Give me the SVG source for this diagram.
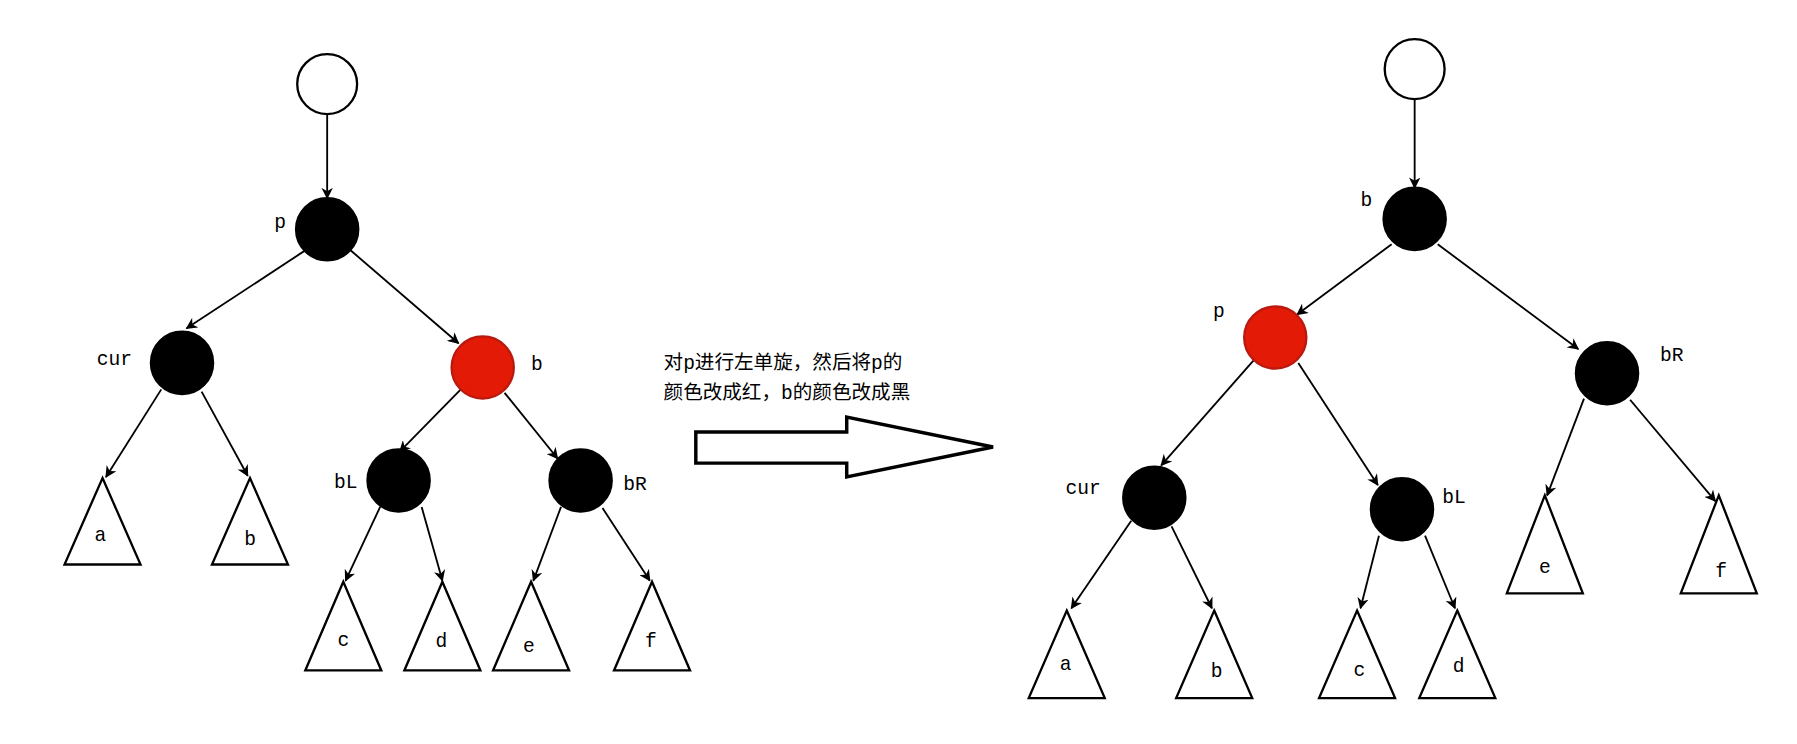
<svg xmlns="http://www.w3.org/2000/svg" width="1797" height="744" viewBox="0 0 1797 744">
<defs>
<style>
.n{stroke:#000;stroke-width:2}
.w{fill:#fff}.k{fill:#000}.r{fill:#e31a05;stroke:#b81a10}
.t{fill:#fff;stroke:#000;stroke-width:2}
.l{font-family:"Liberation Mono","Noto Sans CJK SC",monospace;font-size:17px;fill:#000}
.e{stroke:#000;stroke-width:1.6;fill:none;marker-end:url(#a)}
</style>
<marker id="a" viewBox="0 0 10 10" refX="9" refY="5" markerWidth="10" markerHeight="10" markerUnits="userSpaceOnUse" orient="auto"><path d="M0,0 L10,5 L0,10 L3,5 z" fill="#000"/></marker>
</defs>
<rect width="1797" height="744" fill="#fff"/>
<g transform="scale(1.152)">
<g id="edges">
<line class="e" x1="284" y1="99" x2="284" y2="172"/>
<line class="e" x1="264" y1="218" x2="162" y2="285"/>
<line class="e" x1="304" y1="217" x2="398" y2="298"/>
<line class="e" x1="140" y1="338" x2="92" y2="414"/>
<line class="e" x1="175" y1="340" x2="215" y2="413"/>
<line class="e" x1="400" y1="338" x2="347" y2="392"/>
<line class="e" x1="438" y1="341" x2="484" y2="398"/>
<line class="e" x1="330" y1="440" x2="300" y2="504"/>
<line class="e" x1="366" y1="440" x2="384" y2="504"/>
<line class="e" x1="487" y1="440" x2="463" y2="504"/>
<line class="e" x1="523" y1="441" x2="564" y2="504"/>
<line class="e" x1="1228" y1="86" x2="1228" y2="163"/>
<line class="e" x1="1208" y1="212" x2="1126" y2="273"/>
<line class="e" x1="1248" y1="212" x2="1370" y2="303"/>
<line class="e" x1="1088" y1="313" x2="1008" y2="404"/>
<line class="e" x1="1127" y1="315" x2="1196" y2="421"/>
<line class="e" x1="982" y1="452" x2="930" y2="528"/>
<line class="e" x1="1017" y1="457" x2="1052" y2="528"/>
<line class="e" x1="1197" y1="465" x2="1181" y2="528"/>
<line class="e" x1="1237" y1="465" x2="1263" y2="528"/>
<line class="e" x1="1375" y1="346" x2="1343" y2="430"/>
<line class="e" x1="1415" y1="347" x2="1489" y2="435"/>
</g>
<g id="L_root"><circle class="n w" cx="284" cy="73" r="26"/></g>
<g id="L_p"><circle class="n k" cx="284" cy="199" r="27"/><text class="l" x="238" y="198">p</text></g>
<g id="L_cur"><circle class="n k" cx="158" cy="315" r="27"/><text class="l" x="84" y="317">cur</text></g>
<g id="L_b"><circle class="n r" cx="419" cy="319" r="27"/><text class="l" x="461" y="321">b</text></g>
<g id="L_bL"><circle class="n k" cx="346" cy="417" r="27"/><text class="l" x="290" y="424">bL</text></g>
<g id="L_bR"><circle class="n k" cx="504" cy="417" r="27"/><text class="l" x="541" y="425">bR</text></g>
<g id="L_a"><polygon class="t" points="89,415 122,490 56,490"/><text class="l" x="82" y="470">a</text></g>
<g id="L_tb"><polygon class="t" points="217,415 250,490 184,490"/><text class="l" x="212" y="473">b</text></g>
<g id="L_c"><polygon class="t" points="298,505 331,582 265,582"/><text class="l" x="293" y="561">c</text></g>
<g id="L_d"><polygon class="t" points="384,505 417,582 351,582"/><text class="l" x="378" y="562">d</text></g>
<g id="L_e"><polygon class="t" points="461,505 494,582 428,582"/><text class="l" x="454" y="566">e</text></g>
<g id="L_f"><polygon class="t" points="566,505 599,582 533,582"/><text class="l" x="560" y="562">f</text></g>
<g id="R_root"><circle class="n w" cx="1228" cy="60" r="26"/></g>
<g id="R_b"><circle class="n k" cx="1228" cy="190" r="27"/><text class="l" x="1181" y="179">b</text></g>
<g id="R_p"><circle class="n r" cx="1107" cy="293" r="27"/><text class="l" x="1053" y="275">p</text></g>
<g id="R_bR"><circle class="n k" cx="1395" cy="324" r="27"/><text class="l" x="1441" y="313">bR</text></g>
<g id="R_cur"><circle class="n k" cx="1002" cy="432" r="27"/><text class="l" x="925" y="429">cur</text></g>
<g id="R_bL"><circle class="n k" cx="1217" cy="442" r="27"/><text class="l" x="1252" y="437">bL</text></g>
<g id="R_e"><polygon class="t" points="1341,430 1374,515 1308,515"/><text class="l" x="1336" y="497">e</text></g>
<g id="R_f"><polygon class="t" points="1492,430 1525,515 1459,515"/><text class="l" x="1489" y="501">f</text></g>
<g id="R_a"><polygon class="t" points="926,530 959,606 893,606"/><text class="l" x="920" y="582">a</text></g>
<g id="R_tb"><polygon class="t" points="1054,530 1087,606 1021,606"/><text class="l" x="1051" y="588">b</text></g>
<g id="R_c"><polygon class="t" points="1178,530 1211,606 1145,606"/><text class="l" x="1175" y="587">c</text></g>
<g id="R_d"><polygon class="t" points="1265,530 1298,606 1232,606"/><text class="l" x="1261" y="583">d</text></g>
<g id="op">
<text class="l" x="576" y="320">对p进行左单旋，然后将p的</text>
<text class="l" x="576" y="346">颜色改成红，b的颜色改成黑</text>
<polygon points="604,375 735,375 735,362 862,388 735,414 735,402 604,402" fill="#fff" stroke="#000" stroke-width="3"/>
</g>
</g>
</svg>
